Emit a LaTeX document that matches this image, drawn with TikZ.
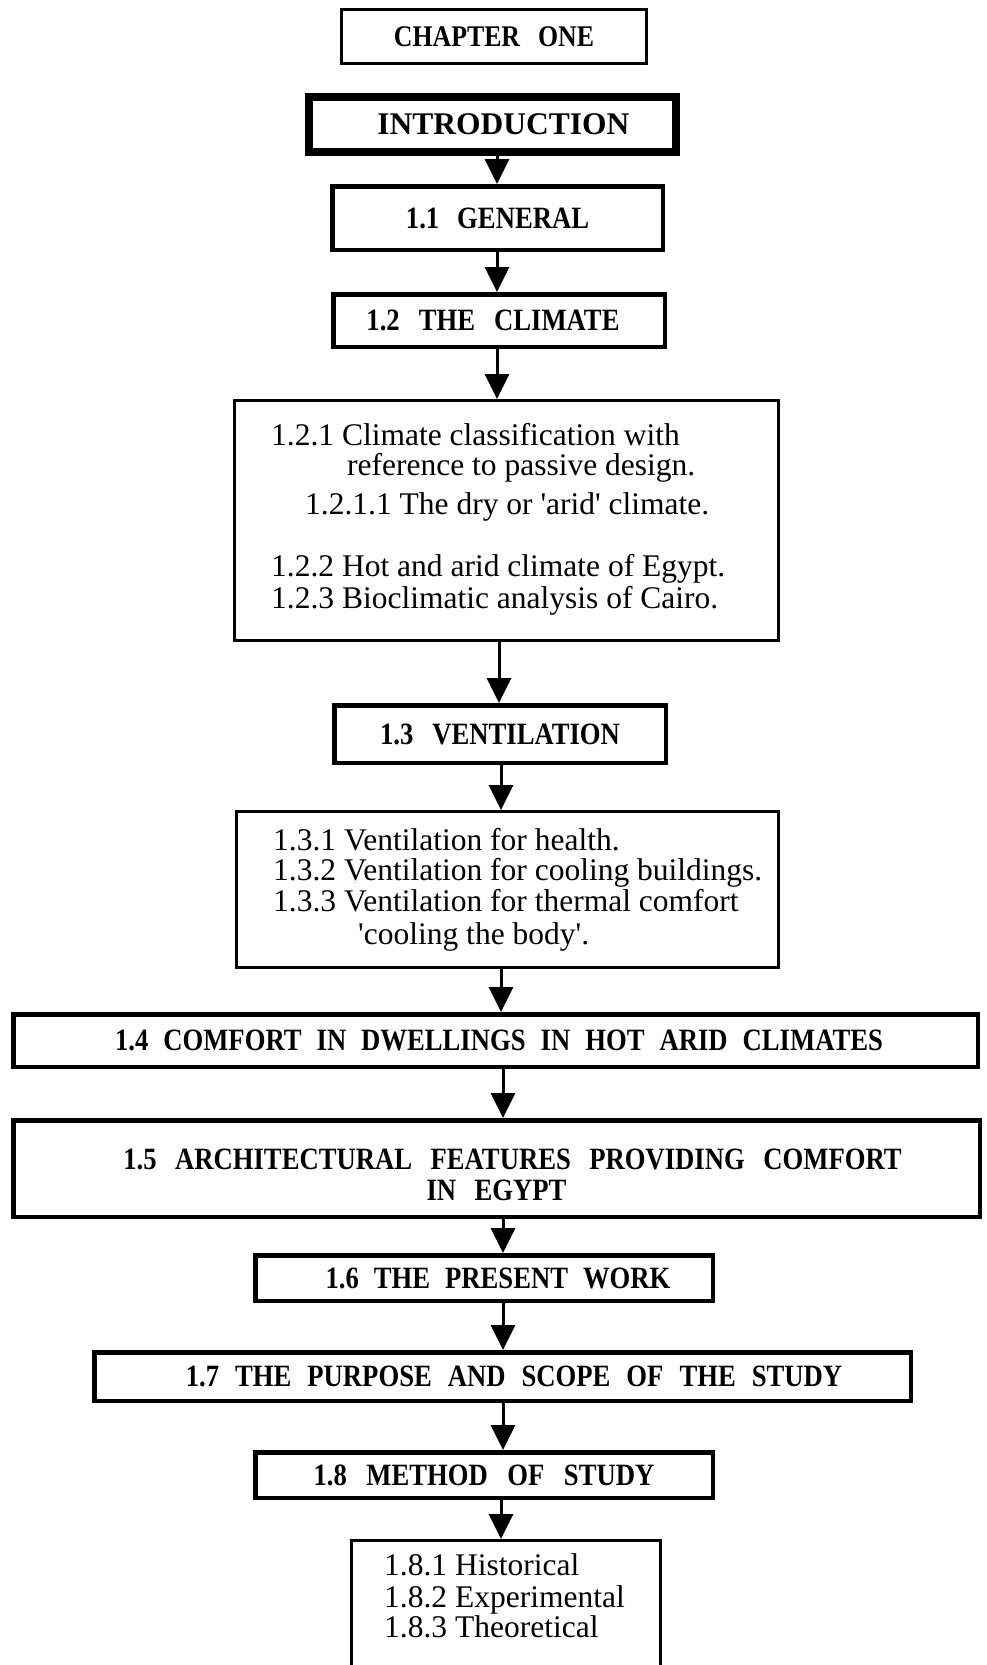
\documentclass[tikz,border=0pt]{standalone}
\usepackage{fontspec}
\setmainfont{Liberation Serif}
\newfontfamily\hfont[FakeStretch=0.86]{Liberation Serif}
\usetikzlibrary{arrows.meta}
\newcommand\hsp[1]{\hspace{#1pt}}
\begin{document}
\begin{tikzpicture}[x=1pt,y=-1pt,
  hbox/.style={draw, line width=4.5pt, inner sep=0pt, font={\fontsize{31}{31}\hfont\bfseries}},
  tbox/.style={draw, line width=3pt, inner sep=0pt},
  body/.style={anchor=base west, inner sep=0pt, font=\fontsize{31.5}{31}\selectfont},
  arr/.style={line width=3pt, -{Triangle[width=24pt,length=25pt]}}]
\useasboundingbox (0,0) rectangle (986,1665);
\clip (0,0) rectangle (986,1665);
% boxes
\node[hbox, line width=3pt, minimum width=305pt, minimum height=54pt, font={\fontsize{30}{31}\hfont\bfseries}] (ch) at (494,36.5) {CHAPTER\hsp{18}ONE};
\node[hbox, line width=8pt, minimum width=367pt, minimum height=55pt, font=\fontsize{31.5}{34}\selectfont\bfseries] (intro) at (492.5,124.5) {\kern22pt INTRODUCTION};
\node[hbox, minimum width=330.5pt, minimum height=63.5pt] (gen) at (497.5,218) {1.1\hsp{18}GENERAL};
\node[hbox, minimum width=331.5pt, minimum height=52.5pt] (clim) at (499,320.5) {1.2\hsp{19}THE\hsp{19}CLIMATE\kern12pt};
\node[tbox, minimum width=544pt, minimum height=240pt] (b12) at (506.5,520.5) {};
\node[hbox, minimum width=331.5pt, minimum height=57.5pt] (vent) at (500,734) {1.3\hsp{19}VENTILATION};
\node[tbox, minimum width=542pt, minimum height=156pt] (b13) at (507.5,889.5) {};
\node[hbox, minimum width=964.5pt, minimum height=52.5pt] (b14) at (495.5,1040.5) {\kern7pt 1.4\hsp{15}COMFORT\hsp{15}IN\hsp{15}DWELLINGS\hsp{15}IN\hsp{15}HOT\hsp{15}ARID\hsp{15}CLIMATES};
\node[hbox, minimum width=966.5pt, minimum height=96.5pt, align=center] (b15) at (496.5,1168.5) {\rule{0pt}{34pt}\kern32pt 1.5\hsp{18.5}ARCHITECTURAL\hsp{18.5}FEATURES\hsp{18.5}PROVIDING\hsp{18.5}COMFORT\\IN\hsp{18.5}EGYPT};
\node[hbox, minimum width=457.5pt, minimum height=45.5pt] (b16) at (484,1278) {\kern28pt 1.6\hsp{15}THE\hsp{15}PRESENT\hsp{15}WORK};
\node[hbox, minimum width=816.5pt, minimum height=48.5pt] (b17) at (502.5,1376.5) {\kern23pt 1.7\hsp{16}THE\hsp{16}PURPOSE\hsp{16}AND\hsp{16}SCOPE\hsp{16}OF\hsp{16}THE\hsp{16}STUDY};
\node[hbox, minimum width=457.5pt, minimum height=45.5pt] (b18) at (484,1475) {1.8\hsp{19.5}METHOD\hsp{19.5}OF\hsp{19.5}STUDY};
\node[tbox, minimum width=309pt, minimum height=158pt] (b18x) at (506,1619.5) {};
% body text
\node[body] (t121) at (271,445) {1.2.1 Climate classification with};
\node[body] (t121b) at (347,475) {reference to passive design.};
\node[body] (t1211) at (305,514) {1.2.1.1 The dry or \textquotesingle arid\textquotesingle\ climate.};
\node[body] (t122) at (271,576) {1.2.2 Hot and arid climate of Egypt.};
\node[body] (t123) at (271,608) {1.2.3 Bioclimatic analysis of Cairo.};
\node[body] (t131) at (273,850) {1.3.1 Ventilation for health.};
\node[body] (t132) at (273,880) {1.3.2 Ventilation for cooling buildings.};
\node[body] (t133) at (273,911) {1.3.3 Ventilation for thermal comfort};
\node[body] (t133b) at (358,944) {\textquotesingle cooling the body\textquotesingle.};
\node[body] (t181) at (384,1575) {1.8.1 Historical};
\node[body] (t182) at (384,1607) {1.8.2 Experimental};
\node[body] (t183) at (384,1637) {1.8.3 Theoretical};
% arrow axes
\coordinate (xa) at (497,0);
\coordinate (xb) at (499,0);
\coordinate (xc) at (501,0);
\coordinate (xd) at (503,0);
\draw[arr] (intro.south -| xa) -- (gen.north -| xa);
\draw[arr] (gen.south -| xa) -- (clim.north -| xa);
\draw[arr] (clim.south -| xa) -- (b12.north -| xa);
\draw[arr] (b12.south -| xb) -- (vent.north -| xb);
\draw[arr] (vent.south -| xc) -- (b13.north -| xc);
\draw[arr] (b13.south -| xc) -- (b14.north -| xc);
\draw[arr] (b14.south -| xd) -- (b15.north -| xd);
\draw[arr] (b15.south -| xd) -- (b16.north -| xd);
\draw[arr] (b16.south -| xd) -- (b17.north -| xd);
\draw[arr] (b17.south -| xd) -- (b18.north -| xd);
\draw[arr] (b18.south -| xc) -- (b18x.north -| xc);
\end{tikzpicture}
\end{document}
